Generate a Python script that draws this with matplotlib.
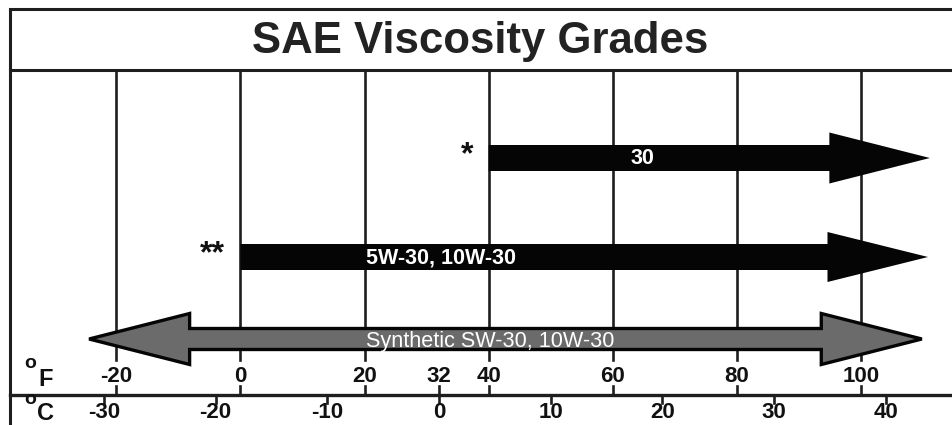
import matplotlib
matplotlib.use("Agg")
import matplotlib.pyplot as plt
from matplotlib.patches import Polygon

# ---- data ----
title = "SAE Viscosity Grades"
f_ticks = [-20, 0, 20, 32, 40, 60, 80, 100]
f_grid = [-20, 0, 20, 40, 60, 80, 100]
c_ticks = [-30, -20, -10, 0, 10, 20, 30, 40]
grades = ["30", "5W-30, 10W-30", "Synthetic SW-30, 10W-30"]
marks = ["*", "**", ""]
start_f = [40, 0, -24.4]
end_f = [111.1, 110.8, 109.8]
double = [False, False, True]

# ---- styling ----
plt.rcParams['font.family'] = ['Liberation Sans', 'DejaVu Sans']
W, H = 952, 425
fig = plt.figure(figsize=(W / 100, H / 100), dpi=100)
ax = fig.add_axes([0, 0, 1, 1])
px_per_f = 6.205
x0 = 240.5
ax.set_xlim(-x0 / px_per_f, (W - x0) / px_per_f)
ax.set_ylim(H, 0)
ax.axis('off')

def fx(px):
    return (px - x0) / px_per_f

dark = '#1e1e1e'
# frame
ax.plot([fx(10), fx(10)], [425, 9], color=dark, lw=2.2, solid_capstyle='butt')
ax.plot([fx(10), fx(952)], [9, 9], color=dark, lw=2.2)
ax.plot([fx(10), fx(952)], [70, 70], color=dark, lw=2.2)
ax.text(fx(480), 41, title, ha='center', va='center', fontsize=31.5,
        fontweight='bold', color='#222222')

# grid lines
for f in f_grid:
    ax.plot([f, f], [70, 360], color=dark, lw=1.9, zorder=1)

# axis line and ticks
ax.plot([fx(10), fx(952)], [395, 395], color=dark, lw=2.4)
for f in f_ticks:
    ax.plot([f, f], [386, 395], color=dark, lw=1.9)
    ax.text(f, 377, str(f), ha='center', va='center', fontsize=16,
            fontweight='bold', color='#111111')
for c in c_ticks:
    fpos = c * 1.8 + 32
    ax.plot([fpos, fpos], [395, 403], color=dark, lw=1.9)
    ax.text(fpos, 412, str(c), ha='center', va='center', fontsize=16,
            fontweight='bold', color='#111111')

# unit labels
ax.text(fx(30), 364, "o", ha='center', va='center', fontsize=14, fontweight='bold', color='#111111')
ax.text(fx(46), 379, "F", ha='center', va='center', fontsize=17, fontweight='bold', color='#111111')
ax.text(fx(30), 399, "o", ha='center', va='center', fontsize=14, fontweight='bold', color='#111111')
ax.text(fx(46), 414, "C", ha='center', va='center', fontsize=17, fontweight='bold', color='#111111')

# arrows
rows_y = [158, 257, 339]
shaft_half = [13, 13, 10.5]
head_half = [25.5, 25, 25.5]
head_len_f = 16.2
for i, g in enumerate(grades):
    y = rows_y[i]
    s, e = start_f[i], end_f[i]
    sh, hh = shaft_half[i], head_half[i]
    if double[i]:
        pts = [(s, y), (s + head_len_f, y - hh), (s + head_len_f, y - sh),
               (e - head_len_f, y - sh), (e - head_len_f, y - hh), (e, y),
               (e - head_len_f, y + hh), (e - head_len_f, y + sh),
               (s + head_len_f, y + sh), (s + head_len_f, y + hh)]
        poly = Polygon(pts, closed=True, facecolor='#6b6b6b', edgecolor='#050505',
                       lw=2.4, joinstyle='miter', zorder=3)
        ax.add_patch(poly)
        ax.text(fx(490), y + 2, g, ha='center', va='center', fontsize=15.6,
                color='white', zorder=4)
    else:
        pts = [(s, y - sh), (e - head_len_f, y - sh), (e - head_len_f, y - hh), (e, y),
               (e - head_len_f, y + hh), (e - head_len_f, y + sh), (s, y + sh)]
        poly = Polygon(pts, closed=True, facecolor='#050505', edgecolor='none', zorder=3)
        ax.add_patch(poly)
        lx = fx(642) if i == 0 else fx(441)
        ax.text(lx, y + 1, g, ha='center', va='center', fontsize=15.5,
                fontweight='bold', color='white', zorder=4)
        mx = fx(467) if i == 0 else fx(212)
        ax.text(mx, y - 3, marks[i], ha='center', va='center', fontsize=23,
                fontweight='bold', color='#111111')

fig.savefig("out.png", dpi=100)
